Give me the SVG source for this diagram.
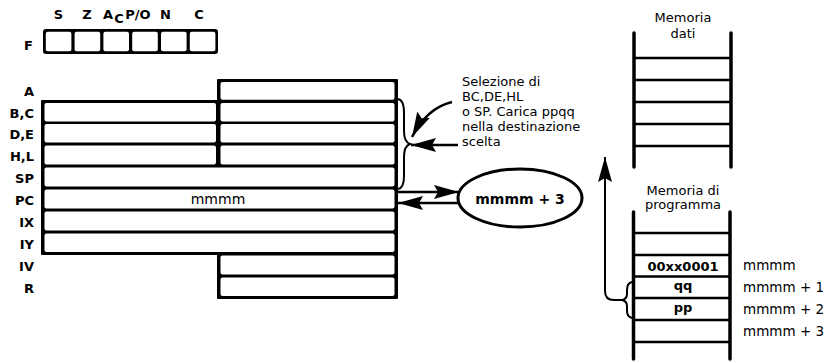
<svg xmlns="http://www.w3.org/2000/svg" width="835" height="363" viewBox="0 0 835 363">
<style>
.t{font-family:"DejaVu Sans","Liberation Sans",sans-serif;fill:#000}
.b{font-weight:bold;font-size:13px}
.r{font-size:13px}
.lbl{font-family:"DejaVu Sans","Liberation Sans",sans-serif;font-weight:bold;font-size:13px;text-anchor:end}
.c{text-anchor:middle}
.cell{fill:#fff}
.rail{stroke:#000;stroke-width:3.5;stroke-linecap:round;fill:none}
.hl{stroke:#000;stroke-width:2.5;fill:none}
.ln{stroke:#000;stroke-width:2;fill:none}
.ar{stroke:#000;stroke-width:2.5;fill:none}
</style>
<defs>
<marker id="ah" markerUnits="userSpaceOnUse" markerWidth="27" markerHeight="15" refX="25" refY="7" orient="auto" viewBox="0 0 27 14">
<path d="M0,0 L25,7 L0,14 L4,7 z" fill="#000"/>
</marker>
</defs>

<g id="flags">
<rect x="43" y="29" width="175" height="25" rx="3" fill="#000"/>
<rect class="cell" x="45.8" y="31.8" width="25.6" height="19.4" rx="2"/>
<rect class="cell" x="74.6" y="31.8" width="25.6" height="19.4" rx="2"/>
<rect class="cell" x="103.4" y="31.8" width="25.6" height="19.4" rx="2"/>
<rect class="cell" x="132.2" y="31.8" width="25.6" height="19.4" rx="2"/>
<rect class="cell" x="161" y="31.8" width="25.6" height="19.4" rx="2"/>
<rect class="cell" x="189.8" y="31.8" width="25.6" height="19.4" rx="2"/>
<text class="lbl" x="33" y="50">F</text>
<text class="t b c" x="58.5" y="19">S</text>
<text class="t b c" x="87" y="19">Z</text>
<text class="t b c" x="108" y="19">A</text>
<text class="t b c" x="119" y="23">C</text>
<text class="t b c" x="138" y="19">P/O</text>
<text class="t b c" x="165.5" y="19">N</text>
<text class="t b c" x="199" y="19">C</text>
</g>

<g id="registers">
<path d="M218,80 H397 V298 H218 V254 H42 V101 H218 Z" fill="#000" stroke="#000" stroke-width="2" stroke-linejoin="round"/>
<rect class="cell" x="220.5" y="82" width="174" height="17.8" rx="2"/>
<rect class="cell" x="44.5" y="103" width="171.5" height="18.5" rx="2"/>
<rect class="cell" x="220.5" y="103" width="174" height="18.5" rx="2"/>
<rect class="cell" x="44.5" y="124" width="171.5" height="18.5" rx="2"/>
<rect class="cell" x="220.5" y="124" width="174" height="18.5" rx="2"/>
<rect class="cell" x="44.5" y="145.5" width="171.5" height="19" rx="2"/>
<rect class="cell" x="220.5" y="145.5" width="174" height="19" rx="2"/>
<rect class="cell" x="44.5" y="167.5" width="350" height="19" rx="2"/>
<rect class="cell" x="44.5" y="189.5" width="350" height="19" rx="2"/>
<rect class="cell" x="44.5" y="211.5" width="350" height="19" rx="2"/>
<rect class="cell" x="44.5" y="233.5" width="350" height="18.5" rx="2"/>
<rect class="cell" x="220.5" y="255.5" width="174" height="19" rx="2"/>
<rect class="cell" x="220.5" y="277.5" width="174" height="18.5" rx="2"/>
<text class="lbl" x="34" y="96">A</text>
<text class="lbl" x="34" y="117.5">B,C</text>
<text class="lbl" x="34" y="139">D,E</text>
<text class="lbl" x="34" y="161">H,L</text>
<text class="lbl" x="34" y="183">SP</text>
<text class="lbl" x="34" y="205">PC</text>
<text class="lbl" x="34" y="227">IX</text>
<text class="lbl" x="34" y="249">IY</text>
<text class="lbl" x="34" y="271">IV</text>
<text class="lbl" x="34" y="293">R</text>
<text class="t c" x="218" y="204" font-size="14">mmmm</text>
</g>

<g id="brace-registers">
<path class="ln" d="M398,99 Q404,100 404,113 L404,131 Q404,142 410,144 Q404,146 404,157 L404,176 Q404,188 398,189"/>
</g>

<g id="note">
<text class="t r" x="462" y="86">Selezione di</text>
<text class="t r" x="462" y="101">BC,DE,HL</text>
<text class="t r" x="462" y="116">o SP. Carica ppqq</text>
<text class="t r" x="462" y="131">nella destinazione</text>
<text class="t r" x="462" y="146">scelta</text>
</g>

<g id="pc-next">
<ellipse cx="520" cy="198" rx="62" ry="29" fill="#fff" stroke="#000" stroke-width="3"/>
<text class="t c" x="520" y="204" font-size="14" font-weight="bold">mmmm + 3</text>
</g>

<g id="data-memory">
<text class="t r c" x="683" y="22">Memoria</text>
<text class="t r c" x="683" y="38">dati</text>
<line class="rail" x1="634" y1="33" x2="634" y2="167"/>
<line class="rail" x1="731" y1="33" x2="731" y2="167"/>
<line class="hl" x1="634" y1="58" x2="731" y2="58"/>
<line class="hl" x1="634" y1="80" x2="731" y2="80"/>
<line class="hl" x1="634" y1="102" x2="731" y2="102"/>
<line class="hl" x1="634" y1="124" x2="731" y2="124"/>
<line class="hl" x1="634" y1="146" x2="731" y2="146"/>
</g>

<g id="program-memory">
<text class="t r c" x="683" y="195">Memoria di</text>
<text class="t r c" x="683" y="209">programma</text>
<line class="rail" x1="633.5" y1="212" x2="633.5" y2="359"/>
<line class="rail" x1="730" y1="212" x2="730" y2="359"/>
<line class="hl" x1="633.5" y1="233" x2="730" y2="233"/>
<line class="hl" x1="633.5" y1="255" x2="730" y2="255"/>
<line class="hl" x1="633.5" y1="276.5" x2="730" y2="276.5"/>
<line class="hl" x1="633.5" y1="298" x2="730" y2="298"/>
<line class="hl" x1="633.5" y1="320" x2="730" y2="320"/>
<line class="hl" x1="633.5" y1="342" x2="730" y2="342"/>
<text class="t b c" x="683" y="270.5">00xx0001</text>
<text class="t b c" x="683" y="290">qq</text>
<text class="t b c" x="683" y="312">pp</text>
<text class="t" x="743" y="270" font-size="13.5">mmmm</text>
<text class="t" x="743" y="292" font-size="13.5">mmmm + 1</text>
<text class="t" x="743" y="314" font-size="13.5">mmmm + 2</text>
<text class="t" x="743" y="336" font-size="13.5">mmmm + 3</text>
<path class="ln" d="M632,282 Q627,283 627,290 L627,294 Q627,299 622,300 Q627,301 627,306 L627,311 Q627,317 632,318"/>
</g>

<g id="connectors">
<path class="ar" d="M452,102 Q427,108 412,137" marker-end="url(#ah)"/>
<line class="ar" x1="458" y1="145" x2="411" y2="145" marker-end="url(#ah)"/>
<line class="ar" x1="398" y1="192" x2="459" y2="192" marker-end="url(#ah)"/>
<line class="ar" x1="459" y1="203" x2="398" y2="203" marker-end="url(#ah)"/>
<path class="ln" d="M622,300 H614 Q605,300 605,291 V157" marker-end="url(#ah)"/>
</g>
</svg>
